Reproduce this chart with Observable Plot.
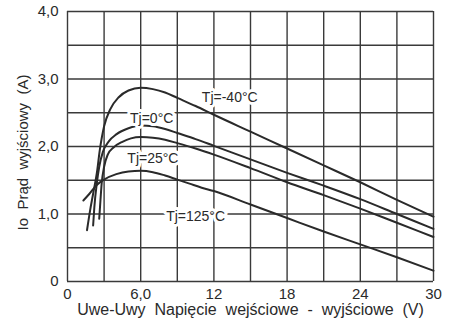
<!DOCTYPE html>
<html>
<head>
<meta charset="utf-8">
<script src="https://cdn.jsdelivr.net/npm/d3@7"></script>
<script src="https://cdn.jsdelivr.net/npm/@observablehq/plot@0.6"></script>
<style>
  html, body { margin: 0; padding: 0; background: #fff; }
  #chart { width: 454px; height: 323px; }
</style>
</head>
<body>
<div id="chart"></div>
<script>
// Grid and ticks
const xGrid = [0, 3, 6, 9, 12, 15, 18, 21, 24, 27, 30];
const yGrid = [0, 0.5, 1, 1.5, 2, 2.5, 3, 3.5, 4];
const xTicks = [0, 6, 12, 18, 24, 30];
const xTickLabels = ["0", "6,0", "12", "18", "24", "30"];
const yTicks = [0, 1, 2, 3, 4];
const yTickLabels = ["0", "1,0", "2,0", "3,0", "4,0"];

// Series (V in volts, I in amperes)
const vM40 = [1.6, 1.85, 2.1, 2.4, 2.65, 3.0, 3.5, 4.2, 5.0, 6.0, 7.0, 8.0, 9.0, 10.5, 12, 15, 18, 21, 24, 27, 30];
const iM40 = [0.76, 1.05, 1.3, 1.6, 1.95, 2.3, 2.55, 2.73, 2.83, 2.87, 2.85, 2.8, 2.72, 2.6, 2.47, 2.22, 1.97, 1.72, 1.47, 1.21, 0.96];
const v0 = [2.1, 2.2, 2.4, 2.6, 2.9, 3.4, 4.0, 5.0, 6.0, 7.0, 8.0, 9.0, 10.5, 12, 15, 18, 21, 24, 27, 30];
const i0 = [0.83, 1.1, 1.45, 1.7, 1.92, 2.08, 2.18, 2.27, 2.31, 2.3, 2.26, 2.2, 2.11, 2.01, 1.81, 1.61, 1.42, 1.22, 1.0, 0.78];
const v25 = [2.6, 2.7, 2.8, 3.0, 3.3, 3.8, 4.5, 5.2, 6.0, 7.0, 8.0, 9.0, 10.5, 12, 15, 18, 21, 24, 27, 30];
const i25 = [0.93, 1.2, 1.45, 1.7, 1.88, 1.99, 2.07, 2.12, 2.14, 2.13, 2.1, 2.05, 1.97, 1.88, 1.68, 1.47, 1.28, 1.08, 0.87, 0.66];
const v125 = [1.3, 1.8, 2.4, 3.0, 4.0, 5.0, 6.0, 7.0, 8.0, 9.0, 10.0, 11.0, 12, 15, 18, 21, 24, 27, 30];
const i125 = [1.2, 1.3, 1.43, 1.51, 1.59, 1.63, 1.64, 1.62, 1.57, 1.51, 1.45, 1.39, 1.34, 1.14, 0.94, 0.74, 0.55, 0.36, 0.16];

// Curve labels
const labelTexts = ["Tj=-40°C", "Tj=0°C", "Tj=25°C", "Tj=125°C"];
const labelV = [13.3, 6.9, 7.0, 10.5];
const labelI = [2.73, 2.41, 1.82, 0.96];

const series = [
  {name: "-40", v: vM40, i: iM40},
  {name: "0", v: v0, i: i0},
  {name: "25", v: v25, i: i25},
  {name: "125", v: v125, i: i125}
];
const rows = series.flatMap(s => s.v.map((v, k) => ({series: s.name, v, i: s.i[k]})));
const labels = labelTexts.map((t, k) => ({t, v: labelV[k], i: labelI[k]}));

const ink = "#2a2a2a";
const chart = Plot.plot({
  width: 454,
  height: 323,
  marginLeft: 67,
  marginRight: 21,
  marginTop: 11,
  marginBottom: 42,
  style: {fontFamily: "'Liberation Sans', Arial, sans-serif", fontSize: "15px", color: ink, background: "#fff"},
  x: {domain: [0, 30]},
  y: {domain: [0, 4]},
  marks: [
    Plot.ruleX(xGrid, {stroke: "#3a3a3a", strokeWidth: 1.4}),
    Plot.ruleY(yGrid, {stroke: "#3a3a3a", strokeWidth: 1.4}),
    Plot.line(rows, {x: "v", y: "i", z: "series", stroke: ink, strokeWidth: 2, curve: "monotone-x"}),
    Plot.text(labels, {x: "v", y: "i", text: "t", fontSize: 14, fill: ink, stroke: "#fff", strokeWidth: 6, paintOrder: "stroke"}),
    Plot.axisX({ticks: xTicks, tickFormat: d => xTickLabels[xTicks.indexOf(d)], tickSize: 0, tickPadding: 7, label: null, fontSize: 15}),
    Plot.axisY({ticks: yTicks, tickFormat: d => yTickLabels[yTicks.indexOf(d)], tickSize: 0, tickPadding: 9, label: null, fontSize: 15}),
    Plot.text(["Uwe-Uwy  Napięcie  wejściowe  -  wyjściowe  (V)"], {frameAnchor: "bottom", lineAnchor: "middle", textAnchor: "middle", text: d => d, dy: 28, fontSize: 16, fill: ink}),
    Plot.text(["Io  Prąd  wyjściowy  (A)"], {frameAnchor: "left", lineAnchor: "middle", textAnchor: "middle", text: d => d, rotate: -90, dx: -44, dy: 6, fontSize: 15, fill: ink})
  ]
});
document.getElementById("chart").appendChild(chart);
</script>
</body>
</html>
